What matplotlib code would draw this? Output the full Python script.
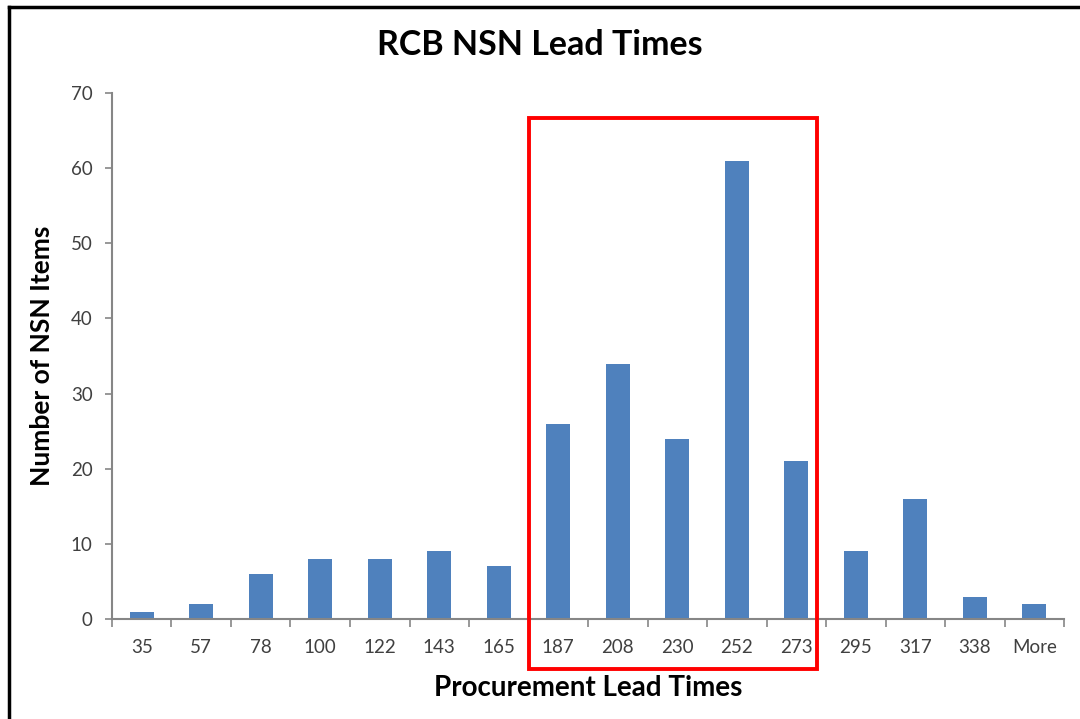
import matplotlib.pyplot as plt
from matplotlib.patches import Rectangle
from matplotlib.lines import Line2D
from matplotlib.ticker import MultipleLocator, FixedLocator
import numpy as np

plt.rcParams['font.family'] = ['Lato', 'DejaVu Sans']

# bins of procurement lead time (days) and counts of NSN items
categories = ['35', '57', '78', '100', '122', '143', '165', '187',
              '208', '230', '252', '273', '295', '317', '338', 'More']
counts = [1, 2, 6, 8, 8, 9, 7, 26, 34, 24, 61, 21, 9, 16, 3, 2]
highlight = ['187', '273']  # first and last bin inside the red box

fig = plt.figure(figsize=(10.8, 7.19), dpi=100)
ax = fig.add_axes([0.1037, 0.139, 0.8815, 0.7317])

x = np.arange(len(categories))
ax.bar(x, counts, width=0.4, color='#4F81BD', zorder=2)

ax.set_xlim(-0.5, len(categories) - 0.5)
ax.set_ylim(0, 70)
ax.yaxis.set_major_locator(MultipleLocator(10))

# ticks between categories, labels centred under the bars
ax.xaxis.set_major_locator(FixedLocator(np.arange(len(categories) + 1) - 0.5))
ax.xaxis.set_major_formatter(plt.NullFormatter())
ax.set_xticks(x, minor=True)
ax.set_xticklabels(categories, minor=True)
ax.tick_params(axis='x', which='major', length=6, width=1.2, color='#868686', direction='out')
ax.tick_params(axis='x', which='minor', length=0, pad=14, labelsize=13.5, labelcolor='#404040')
ax.tick_params(axis='y', length=5, width=1.2, color='#868686', direction='out',
               pad=9, labelsize=13.5, labelcolor='#404040')

for side in ['top', 'right']:
    ax.spines[side].set_visible(False)
for side in ['left', 'bottom']:
    ax.spines[side].set_color('#868686')
    ax.spines[side].set_linewidth(1.5)

fig.text(0.5, 0.937, 'RCB NSN Lead Times', fontsize=24.5, fontweight='bold',
         ha='center', va='center')
ax.set_xlabel('Procurement Lead Times', fontsize=20, fontweight='bold', labelpad=14)
ax.set_ylabel('Number of NSN Items', fontsize=19, fontweight='bold', labelpad=12)

# red box around the 187-273 bins
i0 = categories.index(highlight[0])
i1 = categories.index(highlight[1])
box = Rectangle((i0 - 0.5, -6.7), (i1 - i0) + 0.85, 73.4, fill=False,
                edgecolor='#FF0000', linewidth=2.8, clip_on=False, zorder=3)
ax.add_patch(box)

# black frame of the screenshot (left and top edges)
fig.add_artist(Line2D([0.0083, 0.0083], [0.0, 0.990], color='black', linewidth=2.5))
fig.add_artist(Line2D([0.0083, 1.0], [0.990, 0.990], color='black', linewidth=2.5))

fig.savefig('out.png', dpi=100)
